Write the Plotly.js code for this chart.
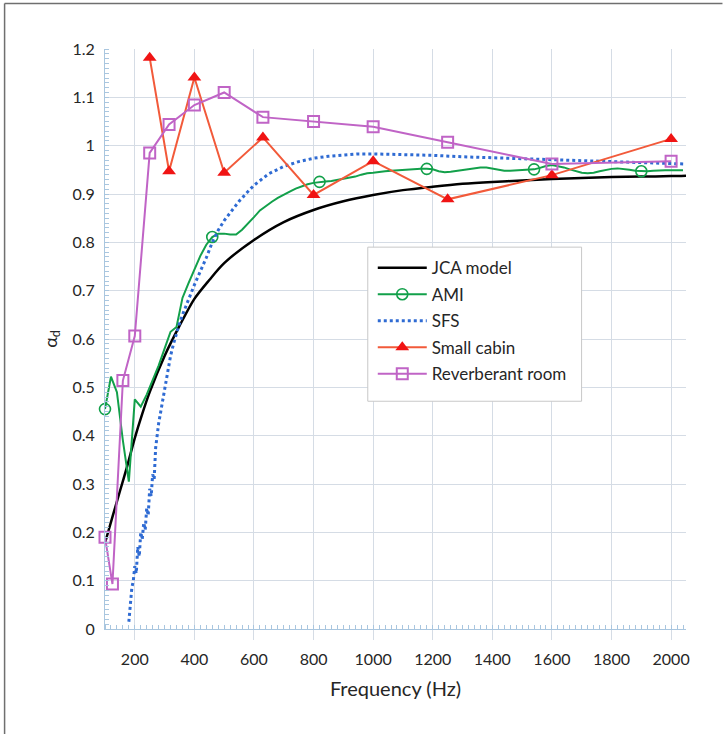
<!DOCTYPE html>
<html>
<head>
<meta charset="utf-8">
<script src="https://cdn.plot.ly/plotly-3.0.1.min.js"></script>
<style>
  html, body { margin: 0; padding: 0; background: #ffffff; }
  #chart { width: 723px; height: 734px; }
</style>
</head>
<body>
<div id="chart"></div>
<script>
// Diffuse-field absorption coefficient vs frequency

// JCA model (smooth prediction)
const jcaFreq = [100, 125, 150, 175, 200, 225, 250, 300, 350, 400, 450, 500, 600, 700, 800, 900,
                 1000, 1100, 1200, 1300, 1400, 1500, 1600, 1700, 1800, 1900, 2000, 2050];
const jcaVal  = [0.178, 0.232, 0.285, 0.338, 0.395, 0.445, 0.490, 0.565, 0.627, 0.683, 0.722, 0.757,
                 0.805, 0.842, 0.867, 0.885, 0.898, 0.908, 0.915, 0.921, 0.925, 0.928, 0.931, 0.933,
                 0.935, 0.936, 0.937, 0.938];

// AMI, sampled every 20 Hz from 100 Hz
const amiStart = 100, amiStep = 20;
const amiVal = [
  0.455, 0.522, 0.490, 0.390, 0.305, 0.475, 0.460, 0.485, 0.515, 0.545,
  0.580, 0.615, 0.625, 0.685, 0.715, 0.745, 0.772, 0.795, 0.811, 0.818,
  0.818, 0.816, 0.816, 0.826, 0.838, 0.852, 0.866, 0.876, 0.884, 0.892,
  0.899, 0.905, 0.911, 0.916, 0.920, 0.923, 0.925, 0.926, 0.927, 0.929,
  0.931, 0.933, 0.936, 0.940, 0.943, 0.944, 0.946, 0.947, 0.948, 0.949,
  0.949, 0.950, 0.951, 0.952, 0.952, 0.951, 0.947, 0.945, 0.946, 0.948,
  0.950, 0.952, 0.954, 0.955, 0.955, 0.953, 0.950, 0.948, 0.948, 0.949,
  0.950, 0.951, 0.951, 0.954, 0.958, 0.960, 0.958, 0.955, 0.951, 0.947,
  0.944, 0.943, 0.944, 0.947, 0.950, 0.952, 0.953, 0.952, 0.950, 0.948,
  0.947, 0.947, 0.948, 0.949, 0.949, 0.949, 0.949, 0.949
];
const amiFreq = amiVal.map((_, i) => amiStart + i * amiStep);
const amiMarkerEvery = 18;   // one open circle every 18 samples (360 Hz)

// SFS
const sfsFreq = [180, 185, 190, 195, 200, 205, 210, 215, 220, 225, 230, 235, 240, 245, 250, 255,
                 260, 265, 270, 280, 290, 300, 310, 320, 330, 340, 350, 360, 380, 400, 420, 440,
                 460, 480, 500, 525, 550, 575, 600, 650, 700, 750, 800, 850, 900, 950, 1000,
                 1100, 1200, 1300, 1400, 1500, 1600, 1700, 1800, 1900, 2000, 2050];
const sfsVal  = [0.015, 0.050, 0.085, 0.100, 0.130, 0.115, 0.170, 0.150, 0.200, 0.185, 0.220, 0.205,
                 0.250, 0.235, 0.290, 0.275, 0.320, 0.310, 0.375, 0.425, 0.460, 0.500, 0.535, 0.565,
                 0.590, 0.612, 0.632, 0.650, 0.683, 0.712, 0.740, 0.768, 0.800, 0.825, 0.845, 0.865,
                 0.885, 0.902, 0.918, 0.942, 0.957, 0.967, 0.974, 0.978, 0.981, 0.983, 0.983,
                 0.982, 0.980, 0.977, 0.975, 0.972, 0.970, 0.968, 0.966, 0.964, 0.963, 0.962];

// Measurements in one-third-octave bands
const cabinFreq = [250, 315, 400, 500, 630, 800, 1000, 1250, 1600, 2000];
const cabinVal  = [1.182, 0.947, 1.141, 0.944, 1.017, 0.898, 0.968, 0.889, 0.939, 1.014];

const reverbFreq = [100, 125, 160, 200, 250, 315, 400, 500, 630, 800, 1000, 1250, 1600, 2000];
const reverbVal  = [0.190, 0.093, 0.514, 0.606, 0.985, 1.044, 1.084, 1.110, 1.059, 1.050, 1.039,
                    1.007, 0.962, 0.968];

// Axis ticks
const xTicks = [200, 400, 600, 800, 1000, 1200, 1400, 1600, 1800, 2000];
const yTicks = [0, 0.1, 0.2, 0.3, 0.4, 0.5, 0.6, 0.7, 0.8, 0.9, 1.0, 1.1, 1.2];
const yTickText = ['0', '0.1', '0.2', '0.3', '0.4', '0.5', '0.6', '0.7', '0.8', '0.9', '1', '1.1', '1.2'];

// ---- drawing ----
const W = 723, H = 734;
const M = { l: 105, r: 36.5, t: 49, b: 105.4 };
const pw = W - M.l - M.r, ph = H - M.t - M.b;
const paperX = px => (px - M.l) / pw;
const paperY = py => (H - M.b - py) / ph;

const GREEN = '#12a04a', BLUE = '#2f6bd3', ORANGE = '#f25a3a', RED = '#f01414', PURPLE = '#c064c6';

const traces = [
  { name: 'JCA model', legendgroup: 'a', x: jcaFreq, y: jcaVal, mode: 'lines',
    line: { color: '#000000', width: 2.5, shape: 'spline', smoothing: 0.8 } },
  { name: 'AMI', legendgroup: 'b', x: amiFreq, y: amiVal, mode: 'lines+markers', cliponaxis: false,
    line: { color: GREEN, width: 2 },
    marker: { symbol: 'circle-open', size: 11, color: GREEN, line: { width: 1.6, color: GREEN },
              maxdisplayed: amiVal.length / (amiMarkerEvery - 0.5) } },
  { name: 'SFS', legendgroup: 'c', x: sfsFreq, y: sfsVal, mode: 'lines',
    line: { color: BLUE, width: 3, dash: 'dot' } },
  { name: 'Small cabin', legendgroup: 'd', x: cabinFreq, y: cabinVal, mode: 'lines+markers', cliponaxis: false,
    line: { color: ORANGE, width: 2 },
    marker: { symbol: 'triangle-up', size: 12, color: RED } },
  { name: 'Reverberant room', legendgroup: 'e', x: reverbFreq, y: reverbVal, mode: 'lines+markers', cliponaxis: false,
    line: { color: PURPLE, width: 2 },
    marker: { symbol: 'square-open', size: 11, color: PURPLE, line: { width: 2, color: PURPLE } } }
];

const AXIS_LINE = '#a9c6df', GRID = '#d5dce5';

// legend frame (pixel box)
const LEG = { x0: 368, y0: 247, x1: 582, y1: 401 };

const layout = {
  width: W, height: H,
  margin: { l: M.l, r: M.r, t: M.t, b: M.b, pad: 0 },
  paper_bgcolor: '#ffffff', plot_bgcolor: '#ffffff',
  font: { family: 'Lato, "Open Sans", sans-serif', size: 16, color: '#262626' },
  showlegend: true,
  xaxis: {
    range: [100, 2050], tickmode: 'array', tickvals: xTicks,
    ticks: 'outside', ticklen: 10, tickcolor: GRID, tickwidth: 1,
    ticklabelstandoff: 6,
    showgrid: true, gridcolor: GRID, gridwidth: 1,
    showline: true, linecolor: AXIS_LINE, linewidth: 1, zeroline: false,
    minor: { tick0: 0, dtick: 20, ticks: 'inside', ticklen: 4, tickcolor: AXIS_LINE, showgrid: false },
    title: { text: 'Frequency (Hz)', font: { size: 20, color: '#262626' }, standoff: 14 },
    fixedrange: true
  },
  yaxis: {
    range: [0, 1.2], tickmode: 'array', tickvals: yTicks, ticktext: yTickText,
    ticks: '', ticklabelstandoff: 6,
    showgrid: true, gridcolor: GRID, gridwidth: 1,
    showline: true, linecolor: AXIS_LINE, linewidth: 1, zeroline: false,
    minor: { tick0: 0, dtick: 0.01, ticks: 'inside', ticklen: 4, tickcolor: AXIS_LINE, showgrid: false },
    title: { text: 'α<sub>d</sub>', font: { size: 18, color: '#262626' }, standoff: 10 },
    fixedrange: true
  },
  legend: {
    x: paperX(373), y: paperY(250), xanchor: 'left', yanchor: 'top',
    bgcolor: 'rgba(0,0,0,0)', borderwidth: 0,
    font: { size: 17, color: '#262626' },
    tracegroupgap: 1.4, itemwidth: 49
  },
  shapes: [
    // legend box
    { type: 'rect', xref: 'paper', yref: 'paper', layer: 'above',
      x0: paperX(LEG.x0), x1: paperX(LEG.x1), y0: paperY(LEG.y0), y1: paperY(LEG.y1),
      fillcolor: '#ffffff', line: { color: '#c8c8c8', width: 1 } },
    // outer frame
    { type: 'line', xref: 'paper', yref: 'paper', x0: paperX(4.5), x1: paperX(W), y0: paperY(3.5), y1: paperY(3.5),
      line: { color: '#6f6f6f', width: 1.5 } },
    { type: 'line', xref: 'paper', yref: 'paper', x0: paperX(4.5), x1: paperX(4.5), y0: paperY(3.5), y1: paperY(H),
      line: { color: '#6f6f6f', width: 1.5 } }
  ]
};

Plotly.newPlot('chart', traces, layout, { displayModeBar: false, staticPlot: true });
</script>
</body>
</html>
